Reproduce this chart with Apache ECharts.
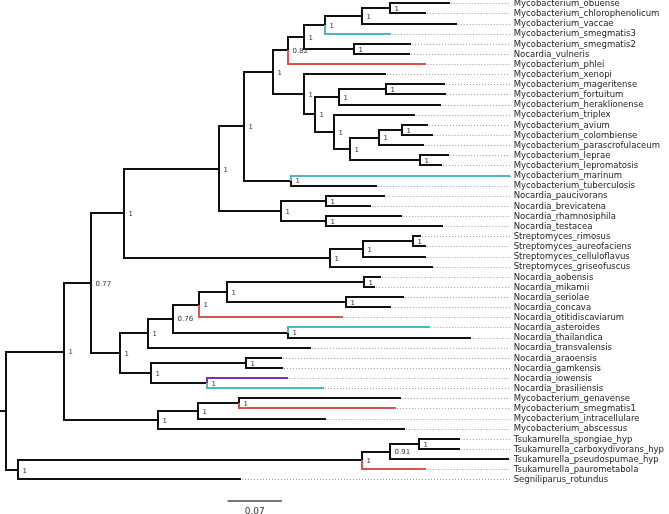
<!DOCTYPE html>
<html>
<head>
<meta charset="utf-8">
<script src="https://cdn.jsdelivr.net/npm/echarts@6/dist/echarts.min.js"></script>
<style>
html,body{margin:0;padding:0;background:#fff;}
#chart{width:669px;height:514px;}
</style>
</head>
<body>
<div id="chart"></div>
<script>
// ---- DATA ----
const leafNames = [
  'Mycobacterium_obuense','Mycobacterium_chlorophenolicum','Mycobacterium_vaccae','Mycobacterium_smegmatis3',
  'Mycobacterium_smegmatis2','Nocardia_vulneris','Mycobacterium_phlei','Mycobacterium_xenopi',
  'Mycobacterium_mageritense','Mycobacterium_fortuitum','Mycobacterium_heraklionense','Mycobacterium_triplex',
  'Mycobacterium_avium','Mycobacterium_colombiense','Mycobacterium_parascrofulaceum','Mycobacterium_leprae',
  'Mycobacterium_lepromatosis','Mycobacterium_marinum','Mycobacterium_tuberculosis','Nocardia_paucivorans',
  'Nocardia_brevicatena','Nocardia_rhamnosiphila','Nocardia_testacea','Streptomyces_rimosus',
  'Streptomyces_aureofaciens','Streptomyces_celluloflavus','Streptomyces_griseofuscus','Nocardia_aobensis',
  'Nocardia_mikamii','Nocardia_seriolae','Nocardia_concava','Nocardia_otitidiscaviarum',
  'Nocardia_asteroides','Nocardia_thailandica','Nocardia_transvalensis','Nocardia_araoensis',
  'Nocardia_gamkensis','Nocardia_iowensis','Nocardia_brasiliensis','Mycobacterium_genavense',
  'Mycobacterium_smegmatis1','Mycobacterium_intracellulare','Mycobacterium_abscessus','Tsukamurella_spongiae_hyp',
  'Tsukamurella_carboxydivorans_hyp','Tsukamurella_pseudospumae_hyp','Tsukamurella_paurometabola','Segniliparus_rotundus'
];
// root-to-tip distance of every leaf (substitutions / site)
const leafDepth = [
  0.572,0.541,0.581,0.496, 0.522,0.521,0.542,0.490,
  0.566,0.567,0.561,0.527, 0.544,0.550,0.539,0.571,
  0.562,0.650,0.478,0.489, 0.471,0.511,0.564,0.535,
  0.541,0.542,0.550,0.484, 0.476,0.513,0.496,0.434,
  0.547,0.600,0.393,0.356, 0.357,0.363,0.410,0.509,
  0.503,0.412,0.514,0.585, 0.585,0.648,0.541,0.303
];
// internal clades: id, children (leaf index or clade id), root-to-node distance, support
const cladeIds = ['A','B','C','D','E','F','G','H','I','J','K','L','M','N','O','P','Q','R','S','T','U','V','W','X','Y','Z',
  'AA','AB','AC','AD','AE','AF','AG','AH','AI','AJ','AK','AL','AM','AN','AO','AP','AQ','AR','AS','AT','ROOT'];
const cladeChildren = [
  [0,1],['A',2],['B',3],[4,5],['C','D'],['E',6],[8,9],['G',10],[12,13],['I',14],[15,16],['J','K'],[11,'L'],
  ['H','M'],[7,'N'],['F','O'],[17,18],['P','Q'],[19,20],[21,22],['S','T'],['R','U'],[23,24],['W',25],['X',26],
  ['V','Y'],[27,28],[29,30],['AA','AB'],['AC',31],[32,33],['AD','AE'],['AF',34],[35,36],[37,38],['AH','AI'],
  ['AG','AJ'],['Z','AK'],[39,40],['AM',41],['AN',42],['AL','AO'],[43,44],['AQ',45],['AR',46],['AS',47],['AP','AT']
];
const cladeDepth = [
  0.495,0.459,0.411,0.448,0.384,0.3635,0.4895,0.429,0.510,0.481,0.534,0.444,0.423,
  0.398,0.384,0.3445,0.368,0.307,0.413,0.412,0.355,0.275,0.525,0.4605,0.418,
  0.152,0.4615,0.438,0.2845,0.249,0.364,0.215,0.183,0.309,0.259,0.187,
  0.147,0.109,0.301,0.248,0.196,0.075,0.533,0.495,0.459,0.0155,0
];
const cladeSupport = [
  '1','1','1','1','1','0.82','1','1','1','1','1','1','1',
  '1','1','1','1','1','1','1','1','1','1','1','1',
  '1','1','1','1','1','1','0.76','1','1','1','1',
  '1','0.77','1','1','1','1','1','0.91','1','1',''
];
// highlighted terminal branches (leaf index -> group)
const highlightLeaves = {3:'cyan',6:'red',17:'cyan',31:'red',32:'cyan',37:'purple',38:'cyan',40:'red',46:'red'};
const scaleBarLength = 0.07;

// ---- styles ----
const colors = {black:'#111111', cyan:'#4db8c4', red:'#d9534f', purple:'#7a34b0'};
const rootStub = 0.0077;
const xMax = 0.65;
const FONT = 'DejaVu Sans';

// ---- layout from data ----
const depthOf = {}, yOf = {};
leafNames.forEach((n,i)=>{ depthOf[i]=leafDepth[i]; yOf[i]=i; });
const cladeIndex = {};
cladeIds.forEach((id,k)=>{ cladeIndex[id]=k; depthOf[id]=cladeDepth[k]; });
function getY(id){
  if (yOf[id] !== undefined) return yOf[id];
  const ch = cladeChildren[cladeIndex[id]];
  const y = (getY(ch[0]) + getY(ch[1]))/2;
  yOf[id] = y; return y;
}
cladeIds.forEach(id=>getY(id));

const branchData = [];
cladeIds.forEach((id,k)=>{
  cladeChildren[k].forEach(c=>{
    const col = (typeof c === 'number' && highlightLeaves[c]) ? highlightLeaves[c] : 'black';
    branchData.push([depthOf[id], yOf[id], depthOf[c], yOf[c], col]);
  });
});
branchData.sort((a,b)=> (a[4]==='black'?0:1) - (b[4]==='black'?0:1));
const rootY = yOf['ROOT'];
branchData.unshift([-rootStub, rootY, 0, rootY, 'black']);

const leaderData = leafNames.map((n,i)=>[leafDepth[i], i]);
const supportData = cladeIds.map((id,k)=>[cladeDepth[k], yOf[id], cladeSupport[k]]).filter(d=>d[2]!=='');

const chart = echarts.init(document.getElementById('chart'), null, {renderer:'canvas'});
chart.setOption({
  animation:false,
  backgroundColor:'#ffffff',
  grid:{left:0, top:3.3, width:510.2, height:476.1, containLabel:false},
  xAxis:{type:'value', min:-rootStub, max:xMax, show:false},
  yAxis:{type:'value', inverse:true, min:0, max:47, show:false},
  series:[
    {
      type:'custom', clip:false, data:leaderData,
      renderItem:function(params, api){
        const p0 = api.coord([api.value(0), api.value(1)]);
        const p1 = api.coord([xMax, api.value(1)]);
        const y = Math.round(p0[1]) + 0.5;
        return {type:'group', children:[
          {type:'line', shape:{x1:p0[0]+1, y1:y, x2:p1[0], y2:y},
           style:{stroke:'#9a9a9a', lineWidth:1, lineDash:[1,2]}},
          {type:'text', x:p1[0]+3.5, y:p0[1]+0.5,
           style:{text:leafNames[params.dataIndex], fill:'#222', font:'8.5px "'+FONT+'"', textAlign:'left', textVerticalAlign:'middle'}}
        ]};
      }
    },
    {
      type:'custom', clip:false, data:branchData.map(d=>[d[0],d[1],d[2],d[3]]),
      renderItem:function(params, api){
        const d = branchData[params.dataIndex];
        const a = api.coord([d[0], d[1]]);
        const b = api.coord([d[0], d[3]]);
        const c = api.coord([d[2], d[3]]);
        const r = v=>Math.round(v);
        return {type:'polyline',
          shape:{points:[[r(a[0]),r(a[1])],[r(b[0]),r(b[1])],[r(c[0]),r(c[1])]]},
          style:{stroke:colors[d[4]], lineWidth:2, fill:null, lineJoin:'miter', lineCap:'butt'}};
      }
    },
    {
      type:'custom', clip:false, data:supportData.map(d=>[d[0],d[1]]),
      renderItem:function(params, api){
        const p = api.coord([api.value(0), api.value(1)]);
        return {type:'text', x:Math.round(p[0])+4.5, y:p[1]+1,
          style:{text:supportData[params.dataIndex][2], fill:'#333', font:'7px "'+FONT+'"', textAlign:'left', textVerticalAlign:'middle'}};
      }
    },
    {
      type:'custom', clip:false, data:[[0.2857, 49.1, scaleBarLength]],
      renderItem:function(params, api){
        const p = api.coord([api.value(0), api.value(1)]);
        const w = api.size([api.value(2), 0])[0];
        const y = Math.round(p[1]);
        return {type:'group', children:[
          {type:'line', shape:{x1:p[0], y1:y, x2:p[0]+w, y2:y}, style:{stroke:'#777', lineWidth:2}},
          {type:'text', x:p[0]+w/2, y:y+11, style:{text:String(api.value(2)), fill:'#333', font:'9px "'+FONT+'"', textAlign:'center', textVerticalAlign:'middle'}}
        ]};
      }
    }
  ]
});
</script>
</body>
</html>
